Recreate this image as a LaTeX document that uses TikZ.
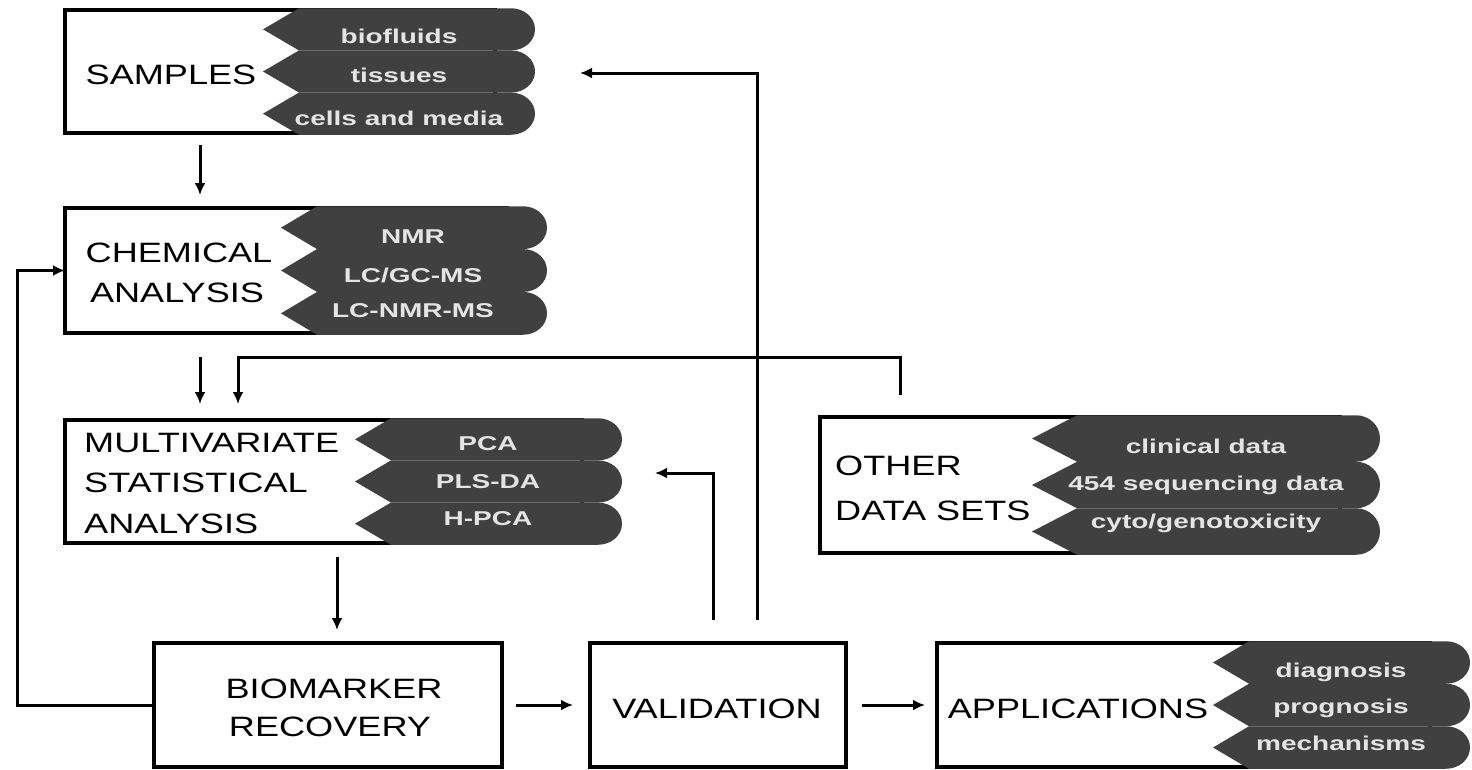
\documentclass[tikz,border=0pt]{standalone}
\usepackage{fontspec}
\usepackage{graphicx}
\setmainfont{Liberation Sans}
\usetikzlibrary{arrows.meta}
\definecolor{tabdark}{HTML}{404040}
\definecolor{tabtext}{HTML}{E4E4E4}
\newcommand\wt[1]{\scalebox{1.29}[1]{#1}}
\newcommand\wb[1]{\scalebox{1.4}[1]{\bfseries #1}}
\newcommand\tabrow[5]{% L d R top bottom
  \fill[tabfill] (#1,{(#4+#5)/2}) -- ({#1+#2},#4) -- ({#3-24},#4)
    .. controls ({#3-10.7},#4) and (#3,{#4+0.22*(#5-#4)}) .. (#3,{(#4+#5)/2})
    .. controls (#3,{#5-0.22*(#5-#4)}) and ({#3-10.7},#5) .. ({#3-24},#5) -- ({#1+#2},#5) -- cycle;}
\newcommand\tabgroup[5]{% L d R top bottom
  \pgfmathsetmacro\tgA{#4}\pgfmathsetmacro\tgB{#4+(#5-#4)/3}%
  \pgfmathsetmacro\tgC{#4+2*(#5-#4)/3}\pgfmathsetmacro\tgD{#5}%
  \tabrow{#1}{#2}{#3}{\tgA}{\tgB}\tabrow{#1}{#2}{#3}{\tgB}{\tgC}\tabrow{#1}{#2}{#3}{\tgC}{\tgD}}
\tikzset{
  box/.style={draw=black, line width=3.5pt, fill=white, inner sep=0pt, outer sep=0pt, anchor=north west},
  main/.style={font=\fontsize{28}{30}\selectfont, inner sep=0pt, anchor=base},
  mainleft/.style={main, anchor=base west},
  tabtxt/.style={font=\fontsize{20}{22}\selectfont, text=tabtext, inner sep=0pt, anchor=base},
  tabfill/.style={fill=tabdark},
  arr/.style={line width=3pt, -{Latex[length=12pt,width=11pt]}},
}
\begin{document}
\begin{tikzpicture}[x=1pt,y=-1pt,line join=miter]
\useasboundingbox (0,0) rectangle (1472,769);
% boxes
\node[box, minimum width=430pt, minimum height=123pt] (samples) at (65,10) {};
\node[box, minimum width=442pt, minimum height=125pt] (chem) at (65,208) {};
\node[box, minimum width=517pt, minimum height=123pt] (multi) at (65,420) {};
\node[box, minimum width=520pt, minimum height=136pt] (other) at (820,417) {};
\node[box, minimum width=348pt, minimum height=124pt] (bio) at (154,643) {};
\node[box, minimum width=256pt, minimum height=124pt] (val) at (590,643) {};
\node[box, minimum width=493pt, minimum height=124pt] (app) at (937,643) {};
% tabs
\tabgroup{263}{36}{535}{8.25}{134.75}
\tabgroup{281}{36}{547}{206.25}{334.75}
\tabgroup{355}{36}{622}{418.25}{544.75}
\tabgroup{1032}{45}{1380}{415.25}{554.75}
\tabgroup{1213}{36}{1470}{641.25}{768.75}
% main texts
\node[main] (tSamples) at (171,84) {\wt{SAMPLES}};
\node[main] (tChem1) at (179,262) {\wt{CHEMICAL}};
\node[main] (tChem2) at (177,302) {\wt{ANALYSIS}};
\node[mainleft] (tMulti1) at (84,452) {\wt{MULTIVARIATE}};
\node[mainleft] (tMulti2) at (84,492) {\wt{STATISTICAL}};
\node[mainleft] (tMulti3) at (84,533) {\wt{ANALYSIS}};
\node[mainleft] (tOther1) at (835,475) {\wt{OTHER}};
\node[mainleft] (tOther2) at (835,520) {\wt{DATA SETS}};
\node[main] (tBio1) at (334,698) {\wt{BIOMARKER}};
\node[main] (tBio2) at (330,736) {\wt{RECOVERY}};
\node[main] (tVal) at (717,718) {\wt{VALIDATION}};
\node[main] (tApp) at (1078,718) {\wt{APPLICATIONS}};
% tab texts
\node[tabtxt] (s1) at (399,43) {\wb{biofluids}};
\node[tabtxt] (s2) at (399,82) {\wb{tissues}};
\node[tabtxt] (s3) at (399,125) {\wb{cells and media}};
\node[tabtxt] (c1) at (413,243) {\wb{NMR}};
\node[tabtxt] (c2) at (413,282) {\wb{LC/GC-MS}};
\node[tabtxt] (c3) at (413,317) {\wb{LC-NMR-MS}};
\node[tabtxt] (m1) at (488,450) {\wb{PCA}};
\node[tabtxt] (m2) at (488,488) {\wb{PLS-DA}};
\node[tabtxt] (m3) at (488,525) {\wb{H-PCA}};
\node[tabtxt] (o1) at (1206,453) {\wb{clinical data}};
\node[tabtxt] (o2) at (1206,490) {\wb{454 sequencing data}};
\node[tabtxt] (o3) at (1206,528) {\wb{cyto/genotoxicity}};
\node[tabtxt] (a1) at (1341,677) {\wb{diagnosis}};
\node[tabtxt] (a2) at (1341,713) {\wb{prognosis}};
\node[tabtxt] (a3) at (1341,750) {\wb{mechanisms}};
% helper coordinates
\coordinate (c17) at (17,0);
\coordinate (c200) at (200,0);
\coordinate (c238) at (238,0);
\coordinate (c337) at (337,0);
\coordinate (c713) at (713,0);
\coordinate (c757) at (757,0);
\coordinate (c900) at (900,0);
\coordinate (h357) at (0,357);
\coordinate (sIn) at (580,73);
\coordinate (mIn) at (655,473);
% connectors
\draw[arr, shorten <=12pt, shorten >=13pt] (samples.south -| c200) -- (chem.north -| c200);
\draw[arr, shorten <=24pt, shorten >=16pt] (chem.south -| c200) -- (multi.north -| c200);
\draw[arr, shorten <=22pt, shorten >=16pt] (other.north -| c900) |- (h357 -| c238) -- (multi.north -| c238);
\draw[arr, shorten <=23pt] (val.north -| c757) |- (sIn);
\draw[arr, shorten <=23pt] (val.north -| c713) |- (mIn);
\draw[arr, shorten <=14pt, shorten >=13pt] (multi.south -| c337) -- (bio.north -| c337);
\draw[arr] (bio.west) -- (bio.west -| c17) |- (chem.west);
\draw[arr, shorten <=14pt, shorten >=17pt] (bio.east) -- (val.west);
\draw[arr, shorten <=16pt, shorten >=12pt] (val.east) -- (app.west);
\end{tikzpicture}
\end{document}
